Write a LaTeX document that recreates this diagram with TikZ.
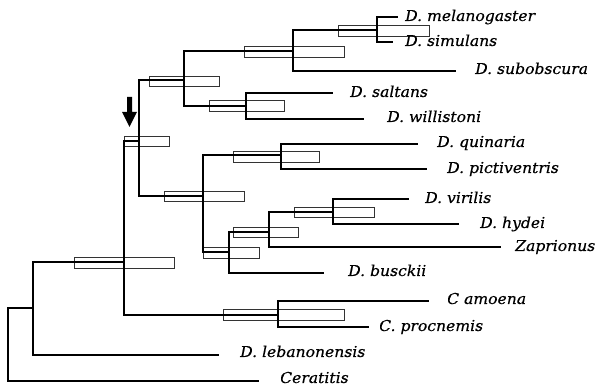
\documentclass[tikz,border=0pt]{standalone}
\usepackage{fontspec}
\newfontfamily\labfont{DejaVu Serif}[ItalicFeatures={FakeStretch=1.04,FakeBold=0.4}]
\begin{document}
\begin{tikzpicture}[x=1pt,y=-1pt,
  branch/.style={line width=1.3pt,line join=miter,line cap=rect},
  cibox/.style={line width=0.7pt,draw=black!80},
  taxon/.style={anchor=base west,inner sep=0pt,font=\labfont\itshape\fontsize{15}{18}\selectfont}]
\useasboundingbox (0,0) rectangle (600,387);
% internal nodes
\coordinate (R) at (8,308);
\coordinate (n1) at (33,308);
\coordinate (n2) at (124,262);
\coordinate (n3) at (139,141);
\coordinate (nA) at (184,80);
\coordinate (nA1) at (293,51);
\coordinate (nM) at (377,30);
\coordinate (nA2) at (246,106);
\coordinate (nB) at (203,196);
\coordinate (nQ) at (281,155);
\coordinate (nD) at (229,252);
\coordinate (nE) at (269,232);
\coordinate (nV) at (333,212);
\coordinate (nC) at (278,315);
% leaf tips
\coordinate (tmel) at (397,17);
\coordinate (tsim) at (392,42);
\coordinate (tsub) at (455,71);
\coordinate (tsal) at (332,93);
\coordinate (twil) at (363,119);
\coordinate (tqui) at (417,144);
\coordinate (tpic) at (426,169);
\coordinate (tvir) at (408,199);
\coordinate (thyd) at (458,224);
\coordinate (tzap) at (500,247);
\coordinate (tbus) at (323,273);
\coordinate (tamo) at (428,301);
\coordinate (tpro) at (368,327);
\coordinate (tleb) at (218,355);
\coordinate (tcer) at (258,381);
% confidence boxes
\draw[cibox] (74,257) rectangle (174,268);
\draw[cibox] (124,136) rectangle (169,146);
\draw[cibox] (149,76) rectangle (219,86);
\draw[cibox] (244,46) rectangle (344,57);
\draw[cibox] (338,25) rectangle (429,36);
\draw[cibox] (209,100) rectangle (284,111);
\draw[cibox] (164,191) rectangle (244,201);
\draw[cibox] (233,151) rectangle (319,162);
\draw[cibox] (203,247) rectangle (259,258);
\draw[cibox] (233,227) rectangle (298,237);
\draw[cibox] (294,207) rectangle (374,217);
\draw[cibox] (223,309) rectangle (344,320);
% branches
\draw[branch] (R) |- (n1);
\draw[branch] (R) |- (tcer);
\draw[branch] (n1) |- (n2);
\draw[branch] (n1) |- (tleb);
\draw[branch] (n2) |- (n3);
\draw[branch] (n2) |- (nC);
\draw[branch] (n3) |- (nA);
\draw[branch] (n3) |- (nB);
\draw[branch] (nA) |- (nA1);
\draw[branch] (nA) |- (nA2);
\draw[branch] (nA1) |- (nM);
\draw[branch] (nA1) |- (tsub);
\draw[branch] (nM) |- (tmel);
\draw[branch] (nM) |- (tsim);
\draw[branch] (nA2) |- (tsal);
\draw[branch] (nA2) |- (twil);
\draw[branch] (nB) |- (nQ);
\draw[branch] (nB) |- (nD);
\draw[branch] (nQ) |- (tqui);
\draw[branch] (nQ) |- (tpic);
\draw[branch] (nD) |- (nE);
\draw[branch] (nD) |- (tbus);
\draw[branch] (nE) |- (nV);
\draw[branch] (nE) |- (tzap);
\draw[branch] (nV) |- (tvir);
\draw[branch] (nV) |- (thyd);
\draw[branch] (nC) |- (tamo);
\draw[branch] (nC) |- (tpro);
% arrow
\fill (127,97) -- (132,97) -- (132,112) -- (137,112) -- (129.5,127) -- (122,112) -- (127,112) -- cycle;
% labels
\node[taxon] (lmel) at (405,21) {D. melanogaster};
\node[taxon] (lsim) at (405,46) {D. simulans};
\node[taxon] (lsub) at (475,74) {D. subobscura};
\node[taxon] (lsal) at (350,97) {D. saltans};
\node[taxon] (lwil) at (387,122) {D. willistoni};
\node[taxon] (lqui) at (437,147) {D. quinaria};
\node[taxon] (lpic) at (447,173) {D. pictiventris};
\node[taxon] (lvir) at (425,203) {D. virilis};
\node[taxon] (lhyd) at (480,228) {D. hydei};
\node[taxon] (lzap) at (515,251) {Zaprionus};
\node[taxon] (lbus) at (348,276) {D. busckii};
\node[taxon] (lamo) at (447,304) {C amoena};
\node[taxon] (lpro) at (379,331) {C. procnemis};
\node[taxon] (lleb) at (240,357) {D. lebanonensis};
\node[taxon] (lcer) at (280,383) {Ceratitis};
\end{tikzpicture}
\end{document}
